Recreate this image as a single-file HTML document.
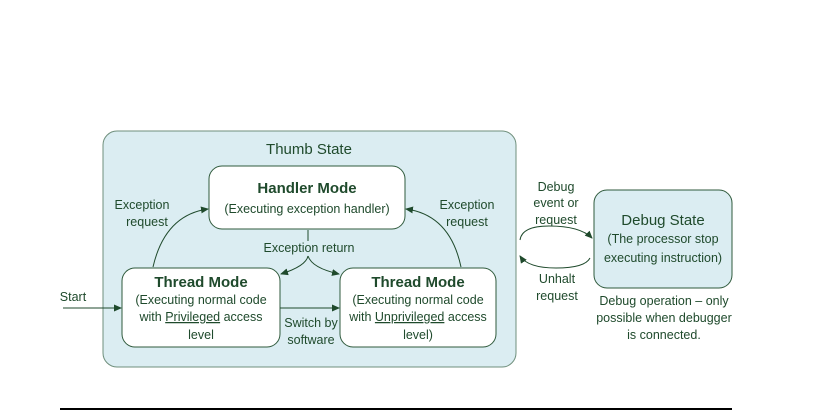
<!DOCTYPE html>
<html><head><meta charset="utf-8"><style>
html,body{margin:0;padding:0;background:#fff;width:834px;height:410px;overflow:hidden}
text{font-family:"Liberation Sans",sans-serif;fill:#1f4a2c;font-size:12.5px}
.b{font-weight:bold;font-size:15px}
</style></head><body>
<svg width="834" height="410" viewBox="0 0 834 410" xmlns="http://www.w3.org/2000/svg">
<defs><marker id="a" markerWidth="8" markerHeight="8" refX="7" refY="4" orient="auto" markerUnits="userSpaceOnUse"><path d="M0,0.5 L8,4 L0,7.5 z" fill="#1f4a2c"/></marker></defs>
<rect x="103" y="131" width="413" height="236" rx="14" fill="#dbedf2" stroke="#6f8f7c" stroke-width="1"/>
<text x="309" y="154" text-anchor="middle" style="font-size:15px">Thumb State</text>
<rect x="209" y="166" width="196" height="63" rx="13" fill="#fff" stroke="#2f5a3c"/>
<text x="307" y="193" text-anchor="middle" class="b">Handler Mode</text>
<text x="307" y="213" text-anchor="middle">(Executing exception handler)</text>
<rect x="122" y="268" width="158" height="79" rx="13" fill="#fff" stroke="#2f5a3c"/>
<text x="201" y="287" text-anchor="middle" class="b">Thread Mode</text>
<text x="201" y="304" text-anchor="middle">(Executing normal code</text>
<text x="201" y="321" text-anchor="middle">with <tspan text-decoration="underline">Privileged</tspan> access</text>
<text x="201" y="339" text-anchor="middle">level</text>
<rect x="340" y="268" width="156" height="79" rx="13" fill="#fff" stroke="#2f5a3c"/>
<text x="418" y="287" text-anchor="middle" class="b">Thread Mode</text>
<text x="418" y="304" text-anchor="middle">(Executing normal code</text>
<text x="418" y="321" text-anchor="middle">with <tspan text-decoration="underline">Unprivileged</tspan> access</text>
<text x="418" y="339" text-anchor="middle">level)</text>
<g fill="none" stroke="#1f4a2c" stroke-width="1">
<path d="M153,267 Q165,215 208,209" marker-end="url(#a)"/>
<path d="M461,267 Q450,215 406,209" marker-end="url(#a)"/>
<path d="M308,230 V241"/>
<path d="M308,256 Q306,266 281,274" marker-end="url(#a)"/>
<path d="M308,256 Q312,268 339,274" marker-end="url(#a)"/>
<path d="M280,308 H339" marker-end="url(#a)"/>
<path d="M63,308 H121" marker-end="url(#a)"/>
<path d="M520,240 Q522,226 549,226 Q580,226 592,238" marker-end="url(#a)"/>
<path d="M590,258 Q585,268 556,268 Q528,268 520,256" marker-end="url(#a)"/>
</g>
<text x="142" y="209" text-anchor="middle">Exception</text>
<text x="147" y="226" text-anchor="middle">request</text>
<text x="467" y="209" text-anchor="middle">Exception</text>
<text x="467" y="226" text-anchor="middle">request</text>
<text x="309" y="252" text-anchor="middle">Exception return</text>
<text x="311" y="327" text-anchor="middle">Switch by</text>
<text x="311" y="344" text-anchor="middle">software</text>
<text x="73" y="301" text-anchor="middle">Start</text>
<text x="556" y="191" text-anchor="middle">Debug</text>
<text x="556" y="207" text-anchor="middle">event or</text>
<text x="556" y="224" text-anchor="middle">request</text>
<text x="557" y="283" text-anchor="middle">Unhalt</text>
<text x="557" y="300" text-anchor="middle">request</text>
<rect x="594" y="190" width="138" height="98" rx="13" fill="#dbedf2" stroke="#2f5a3c"/>
<text x="663" y="225" text-anchor="middle" style="font-size:15px">Debug State</text>
<text x="663" y="243" text-anchor="middle">(The processor stop</text>
<text x="663" y="262" text-anchor="middle">executing instruction)</text>
<text x="664" y="305" text-anchor="middle">Debug operation – only</text>
<text x="664" y="322" text-anchor="middle">possible when debugger</text>
<text x="664" y="339" text-anchor="middle">is connected.</text>
<rect x="60" y="408" width="672" height="2" fill="#000"/>
</svg>
</body></html>
